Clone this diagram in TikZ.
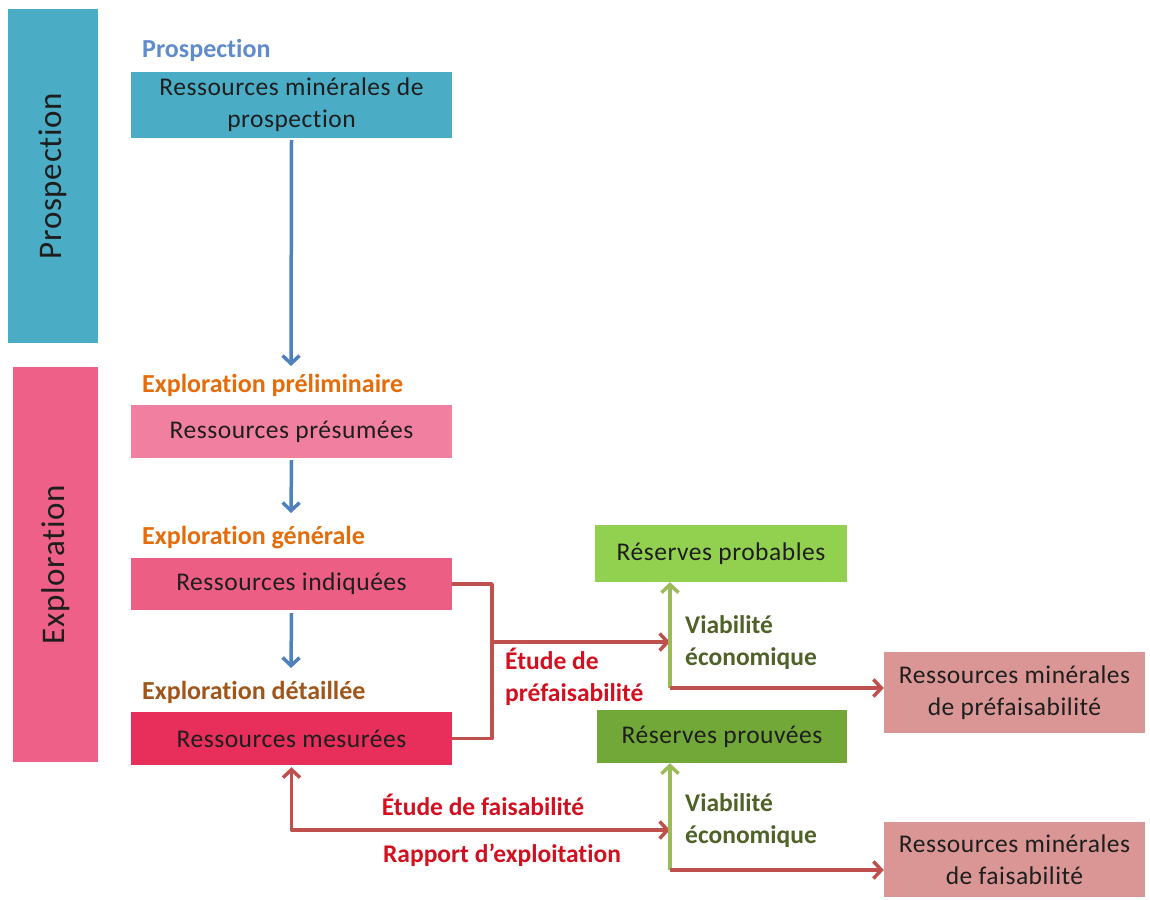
\documentclass[tikz,border=0pt]{standalone}
\usepackage{fontspec}
\setmainfont{Carlito}[Ligatures=NoCommon]
\newfontfamily\boxfont{Carlito}[Ligatures=NoCommon, LetterSpace=2]
\usetikzlibrary{arrows.meta}
\definecolor{teal1}{RGB}{75,172,198}
\definecolor{pinkband}{RGB}{238,96,136}
\definecolor{pinkA}{RGB}{241,128,160}
\definecolor{pinkB}{RGB}{236,94,132}
\definecolor{pinkC}{RGB}{232,46,90}
\definecolor{greenA}{RGB}{146,208,80}
\definecolor{greenB}{RGB}{114,168,56}
\definecolor{rose}{RGB}{218,150,148}
\definecolor{lblue}{RGB}{79,129,189}
\definecolor{lred}{RGB}{192,80,77}
\definecolor{lgreen}{RGB}{155,187,89}
\definecolor{tblue}{RGB}{95,140,205}
\definecolor{torange}{RGB}{228,108,10}
\definecolor{tbrown}{RGB}{160,86,26}
\definecolor{tred}{RGB}{210,16,32}
\definecolor{tgreen}{RGB}{79,98,40}
\definecolor{tdark}{RGB}{30,30,30}
\tikzset{
  tip/.tip={Straight Barb[length=8pt,width=17pt,line width=3.5pt]},
  band/.style={draw=none, inner sep=0pt},
  bandtext/.style={rotate=90, text=tdark, font=\boxfont\fontsize{33}{36}\selectfont},
  box/.style={draw=none, inner sep=0pt, align=center, text=tdark,
    font=\boxfont\fontsize{25.5}{32}\selectfont},
  stage/.style={anchor=west, inner sep=0pt, font=\bfseries\fontsize{26}{30}\selectfont},
  note/.style={anchor=west, inner sep=0pt, align=left, font=\bfseries\fontsize{25.5}{32}\selectfont},
  bluearrow/.style={draw=lblue, line width=3.5pt, -tip},
  redline/.style={draw=lred, line width=3.5pt},
  redarrow/.style={redline, -tip},
  greenarrow/.style={draw=lgreen, line width=3.5pt, -tip},
}
\begin{document}
\begin{tikzpicture}[x=1pt,y=-1pt]
\useasboundingbox (0,0) rectangle (1150,899);

% phase bands on the left
\node[band, fill=teal1, minimum width=90pt, minimum height=334pt] (bandP) at (53,176) {};
\node[bandtext] (bandPt) at (bandP.center) {Prospection};
\node[band, fill=pinkband, minimum width=85pt, minimum height=395pt] (bandE) at (55.5,564.5) {};
\node[bandtext] (bandEt) at (bandE.center) {Exploration};

% stage labels
\node[stage, text=tblue] (l1) at (142,50) {Prospection};
\node[stage, text=torange] (l2) at (142,385) {Exploration préliminaire};
\node[stage, text=torange] (l3) at (142,538) {Exploration générale};
\node[stage, text=tbrown] (l4) at (142,692) {Exploration détaillée};

% resource boxes
\node[box, fill=teal1, minimum width=321pt, minimum height=66pt] (b1) at (291.5,105) {Ressources minérales de\\prospection};
\node[box, fill=pinkA, minimum width=321pt, minimum height=53pt] (b2) at (291.5,431.5) {Ressources présumées};
\node[box, fill=pinkB, minimum width=321pt, minimum height=52pt] (b3) at (291.5,584) {Ressources indiquées};
\node[box, fill=pinkC, minimum width=321pt, minimum height=53pt] (b4) at (291.5,738.5) {Ressources mesurées};

\node[box, fill=greenA, minimum width=252pt, minimum height=57pt] (rp) at (721,553.5) {Réserves probables};
\node[box, fill=greenB, minimum width=250pt, minimum height=53pt] (rv) at (722,736.5) {Réserves prouvées};
\node[box, fill=rose, minimum width=261pt, minimum height=81pt] (m1) at (1014.5,692.5) {Ressources minérales\\de préfaisabilité};
\node[box, fill=rose, minimum width=261pt, minimum height=75pt] (m2) at (1014.5,859.5) {Ressources minérales\\de faisabilité};

% vertical flow
\draw[bluearrow] (b1.south) ++(0,2) -- (291,366) coordinate (a1);
\draw[bluearrow] (b2.south) ++(0,2) -- (291,513) coordinate (a2);
\draw[bluearrow] (b3.south) ++(0,3) -- (291,668) coordinate (a3);

% pre-feasibility branch
\coordinate (j1) at (492,642);
\coordinate (v1) at (670,642);
\coordinate (g1) at (670,688);
\draw[redline, line join=round] (b3.east) -| (j1) |- (b4.east);
\draw[redarrow] (j1) -- (v1);
\draw[greenarrow] (g1) -- (g1 |- rp.south);
\draw[redarrow] (g1) -- (g1 -| m1.west);
\node[note, text=tred] (n1) at (505,677) {Étude de\\préfaisabilité};
\node[note, text=tgreen] (n2) at (685,643) {Viabilité\\économique};

% feasibility branch
\coordinate (v2) at (670,830);
\coordinate (g2) at (670,870);
\draw[redline, tip-tip, line join=round] (b4.south) ++(0,2) |- (v2);
\draw[greenarrow] (g2) -- (g2 |- rv.south);
\draw[redarrow] (g2) -- (g2 -| m2.west);
\node[font=\bfseries\fontsize{25.5}{30}\selectfont, text=tred] (n3) at (483,805) {Étude de faisabilité};
\node[font=\bfseries\fontsize{25.5}{30}\selectfont, text=tred] (n4) at (502,855) {Rapport d’exploitation};
\node[note, text=tgreen] (n5) at (685,821) {Viabilité\\économique};
\end{tikzpicture}
\end{document}
